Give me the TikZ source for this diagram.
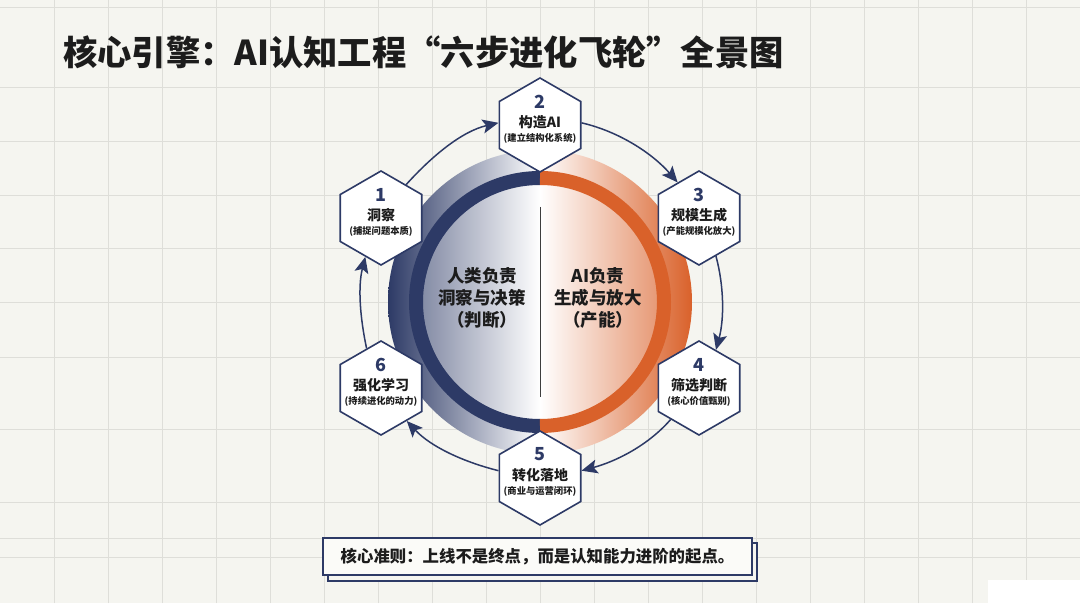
\documentclass[tikz,border=0pt]{standalone}
\usepackage{fontspec}
\setmainfont{Noto Sans CJK SC}
\usetikzlibrary{shapes.geometric,arrows.meta}
\definecolor{navy}{HTML}{2D3A66}
\definecolor{orng}{HTML}{D9612A}
\definecolor{bg}{HTML}{F5F5F0}
\definecolor{gridc}{HTML}{DEDED9}
\definecolor{ink}{HTML}{1C1C1C}
\definecolor{boxfill}{HTML}{FBFBF8}
\begin{document}
\begin{tikzpicture}[x=1pt,y=1pt,
  hexbox/.style={regular polygon, regular polygon sides=6, shape border rotate=30,
    minimum size=94pt, inner sep=0pt, draw=navy, line width=1.6pt, fill=white},
  hexnum/.style={font=\bfseries\fontsize{18}{20}\selectfont, text=navy, inner sep=0pt},
  hextitle/.style={font=\bfseries\fontsize{14}{16}\selectfont, text=ink, inner sep=0pt},
  hexsub/.style={font=\bfseries\fontsize{9.3}{11}\selectfont, text=ink, inner sep=0pt},
  flowline/.style={draw=navy, line width=1.5pt, looseness=0.87,
    -{Stealth[length=16pt,width=14pt,inset=3.5pt]}},
  midtext/.style={font=\bfseries\fontsize{17.5}{22}\selectfont, text=ink, align=center, inner sep=0pt},
  gridline/.style={draw=gridc, line width=0.9pt}
]
\useasboundingbox (0,0) rectangle (1080,603);
\fill[bg] (0,0) rectangle (1080,603);
% grid
\foreach \gx in {54,108,...,1026} \draw[gridline] (\gx,0) -- (\gx,603);
\foreach \gy in {7,87,141,195,248,302,357,429,502,538,557} \draw[gridline] (0,603-\gy) -- (1080,603-\gy);
\fill[white] (988,0) rectangle (1080,23);

% title
\node[anchor=west, inner sep=0pt, text=ink, font=\bfseries\fontsize{34.3}{40}\selectfont] (title) at (63,551) {核心引擎：AI认知工程“六步进化飞轮”全景图};

\coordinate (C) at (540,301);
% outer shaded disc
\begin{scope}
  \clip (C) circle (152);
  \shade[left color=navy, middle color=navy!38, right color=white] (C) ++(-152,-152) rectangle ++(152,304);
  \shade[left color=white, middle color=orng!38, right color=orng] (C) ++(0,-152) rectangle ++(152,304);
\end{scope}
% inner shaded disc
\begin{scope}
  \clip (C) circle (117);
  \shade[left color=navy!58, middle color=navy!15, right color=white] (C) ++(-117,-117) rectangle ++(117,234);
  \shade[left color=white, middle color=orng!20, right color=orng!64] (C) ++(0,-117) rectangle ++(117,234);
\end{scope}
% ring
\draw[navy, line width=14pt] (C) ++(90:124) arc (90:270:124);
\draw[orng, line width=14pt] (C) ++(-90:124) arc (-90:90:124);
% divider
\coordinate (dtop) at (540,396);
\coordinate (dbot) at (540,206);
\draw[ink!85, line width=1pt] (dtop) -- (dbot);

% center texts
\node[midtext] (human) at (482,305) {人类负责\\洞察与决策\\（判断）};
\node[midtext] (ai) at (598,305) {AI负责\\生成与放大\\（产能）};

% hexagons
\node[hexbox] (h1) at (381,385) {};
\node[hexbox] (h2) at (540,478) {};
\node[hexbox] (h3) at (699,385) {};
\node[hexbox] (h4) at (699,215) {};
\node[hexbox] (h5) at (540,125) {};
\node[hexbox] (h6) at (381,215) {};

\foreach \h/\n/\t/\s in {h1/1/洞察/(捕捉问题本质), h2/2/构造AI/(建立结构化系统), h3/3/规模生成/(产能规模化放大), h4/4/筛选判断/(核心价值甄别), h5/5/转化落地/(商业与运营闭环), h6/6/强化学习/(持续进化的动力)}{
  \node[hexnum] (\h n) at ([yshift=23.5pt]\h.center) {\n};
  \node[hextitle] (\h t) at ([yshift=2.5pt]\h.center) {\t};
  \node[hexsub] (\h s) at ([yshift=-13pt]\h.center) {\s};
}

% flow arcs
\draw[flowline] (h1.53)   to[out=48,   in=193] (h2.177);
\draw[flowline] (h2.3)    to[out=-13,  in=131] (h3.121);
\draw[flowline] (h3.-66)  to[out=-75,  in=75]  (h4.66);
\draw[flowline] (h4.-132) to[out=-131, in=15]  (h5.10);
\draw[flowline] (h5.170)  to[out=166,  in=-47] (h6.-52);
\draw[flowline] (h6.110)  to[out=102,  in=-104] (h1.-112);

% bottom rule box
\node[draw=navy, line width=1.4pt, fill=bg, minimum width=429pt, minimum height=38pt, inner sep=0pt] (shadow) at (542.5,41) {};
\node[draw=navy, line width=1.6pt, fill=boxfill, minimum width=429pt, minimum height=37pt, inner sep=0pt,
  font=\bfseries\fontsize{16.4}{20}\selectfont, text=ink] (rule) at (537.5,46.5) {核心准则：上线不是终点，而是认知能力进阶的起点。};
\end{tikzpicture}
\end{document}
